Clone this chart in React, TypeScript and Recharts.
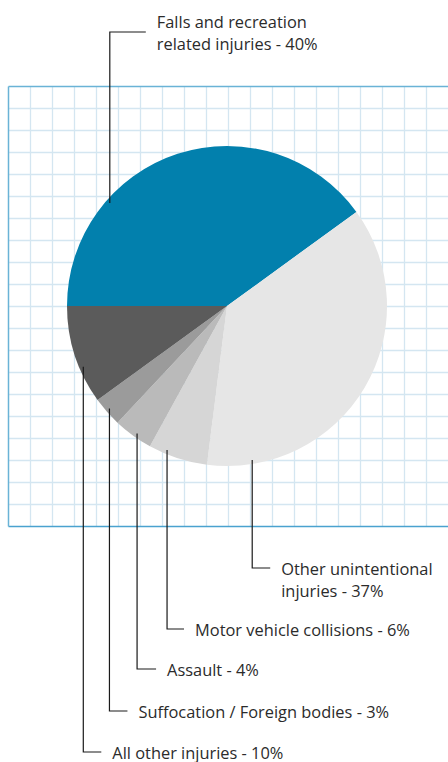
import { PieChart, Pie, Cell } from "recharts";

const categories = [
  "Falls and recreation related injuries",
  "Other unintentional injuries",
  "Motor vehicle collisions",
  "Assault",
  "Suffocation / Foreign bodies",
  "All other injuries",
];
const shares = [40, 37, 6, 4, 3, 10];
const sliceColors = ["#0280ad", "#e6e6e6", "#d6d6d6", "#bababa", "#9b9b9b", "#5b5b5b"];

// label text lines, as printed
const labelLines = [
  ["Falls and recreation", "related injuries - 40%"],
  ["Other unintentional", "injuries - 37%"],
  ["Motor vehicle collisions - 6%"],
  ["Assault - 4%"],
  ["Suffocation / Foreign bodies - 3%"],
  ["All other injuries - 10%"],
];

// leader line layout: angle on the pie where the line starts, elbow height, horizontal run
const leaders = [
  { angle: 138.7, elbowY: 32, run: 36, firstLineDy: -11 },
  { angle: -80.7, elbowY: 568, run: 18, firstLineDy: 0 },
  { angle: -112.6, elbowY: 629, run: 17, firstLineDy: 0 },
  { angle: -125.2, elbowY: 669, run: 19, firstLineDy: 0 },
  { angle: -138.9, elbowY: 711, run: 18, firstLineDy: 0 },
  { angle: -157.1, elbowY: 752, run: 18, firstLineDy: 0 },
];

const data = categories.map((name, i) => ({ name, value: shares[i] }));

const W = 448;
const H = 762;
const RAD = Math.PI / 180;

function GridBackground() {
  const left = 8.5;
  const top = 86.5;
  const bottom = 526.5;
  const step = 22;
  const vs: number[] = [];
  for (let x = left + step; x < W; x += step) vs.push(x);
  const hs: number[] = [];
  for (let y = top + step; y < bottom - 1; y += step) hs.push(y);
  return (
    <svg width={W} height={H} style={{ position: "absolute", left: 0, top: 0 }}>
      {vs.map((x) => (
        <line key={`v${x}`} x1={x} x2={x} y1={top} y2={bottom} stroke="#d4e6f1" strokeWidth={1.3} />
      ))}
      {hs.map((y) => (
        <line key={`h${y}`} x1={left} x2={W} y1={y} y2={y} stroke="#d4e6f1" strokeWidth={1.3} />
      ))}
      <line x1={left} x2={W} y1={top} y2={top} stroke="#6ab3d6" strokeWidth={1.5} />
      <line x1={left} x2={W} y1={bottom} y2={bottom} stroke="#4aa2cf" strokeWidth={1.5} />
      <line x1={left} x2={left} y1={top} y2={bottom} stroke="#6ab3d6" strokeWidth={1.5} />
    </svg>
  );
}

function LeaderLabel(props: any) {
  const { cx, cy, outerRadius, index } = props;
  const l = leaders[index];
  const r = outerRadius - 4;
  const x0 = cx + r * Math.cos(l.angle * RAD);
  const y0 = cy - r * Math.sin(l.angle * RAD);
  const x1 = x0 + l.run;
  const lines = labelLines[index];
  return (
    <g>
      <path
        d={`M${x0},${y0} L${x0},${l.elbowY} L${x1},${l.elbowY}`}
        fill="none"
        stroke="#1a1a1a"
        strokeWidth={1.2}
      />
      <text
        x={x1 + 11}
        y={l.elbowY + l.firstLineDy}
        fill="#2b2b2b"
        fontSize={16.4}
        fontFamily="'Open Sans', sans-serif"
        dominantBaseline="central"
      >
        {lines.map((t, i) => (
          <tspan key={i} x={x1 + 11} dy={i === 0 ? 0 : 21.5}>
            {t}
          </tspan>
        ))}
      </text>
    </g>
  );
}

export default function App() {
  return (
    <div style={{ position: "absolute", left: 0, top: 0, width: W, height: H, background: "#fff" }}>
      <GridBackground />
      <div style={{ position: "absolute", left: 0, top: 0 }}>
        <PieChart width={W} height={H} margin={{ top: 0, right: 0, bottom: 0, left: 0 }}>
          <Pie
            data={data}
            dataKey="value"
            nameKey="name"
            cx={227}
            cy={306}
            outerRadius={160}
            startAngle={180}
            endAngle={-180}
            stroke="none"
            labelLine={false}
            label={LeaderLabel}
            isAnimationActive={false}
          >
            {data.map((d, i) => (
              <Cell key={d.name} fill={sliceColors[i]} />
            ))}
          </Pie>
        </PieChart>
      </div>
    </div>
  );
}
